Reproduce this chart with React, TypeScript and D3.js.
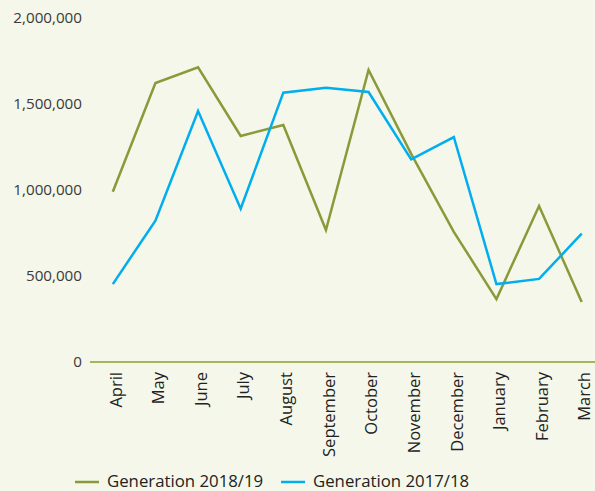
import React from "react";
import * as d3 from "d3";

const months = ["April","May","June","July","August","September","October","November","December","January","February","March"];
const gen1819 = [990000,1622000,1713000,1314000,1378000,767000,1698000,1210000,757000,366000,907000,349000];
const gen1718 = [453000,822000,1459000,891000,1566000,1595000,1570000,1178000,1308000,453000,483000,746000];
const yTicks = [0,500000,1000000,1500000,2000000];
const seriesNames = ["Generation 2018/19","Generation 2017/18"];
const colors = ["#8a9a3a","#00aeef"];

export default function App() {
  const W = 595, H = 491;
  const x = d3.scaleBand<string>().domain(months).range([91.5, 603]);
  const y = d3.scaleLinear().domain([0, 2000000]).range([362, 18]);
  const cx = (m: string) => (x(m) as number) + x.bandwidth() / 2;
  const fmt = d3.format(",");
  const line = d3.line<number>().x((_, i) => cx(months[i])).y(d => y(d));
  const font = "'Open Sans', sans-serif";
  return (
    <svg width={W} height={H} style={{ position: "absolute", left: 0, top: 0, background: "#f4f7e9" }}>
      <rect width={W} height={H} fill="#f4f7e9" />
      {yTicks.map(t => (
        <text key={t} x={82} y={y(t)} dy="0.35em" textAnchor="end" fontFamily={font} fontSize={15.2} fill="#3a3a3a">{fmt(t)}</text>
      ))}
      <line x1={90} x2={W} y1={y(0)} y2={y(0)} stroke="#a7b45a" strokeWidth={2} />
      {months.map(m => (
        <text key={m} transform={`translate(${cx(m) + 3},${372}) rotate(-90)`} textAnchor="end" dy="0.35em" fontFamily={font} fontSize={16.5} fill="#222">{m}</text>
      ))}
      <path d={line(gen1819) || ""} fill="none" stroke={colors[0]} strokeWidth={2.5} />
      <path d={line(gen1718) || ""} fill="none" stroke={colors[1]} strokeWidth={2.5} />
      {seriesNames.map((n, i) => (
        <g key={n} transform={`translate(${i === 0 ? 75 : 281},482)`}>
          <line x1={0} x2={24} y1={0} y2={0} stroke={colors[i]} strokeWidth={2.5} />
          <text x={32} y={-1} dy="0.35em" fontFamily={font} fontSize={16.8} fill="#222">{n}</text>
        </g>
      ))}
    </svg>
  );
}
